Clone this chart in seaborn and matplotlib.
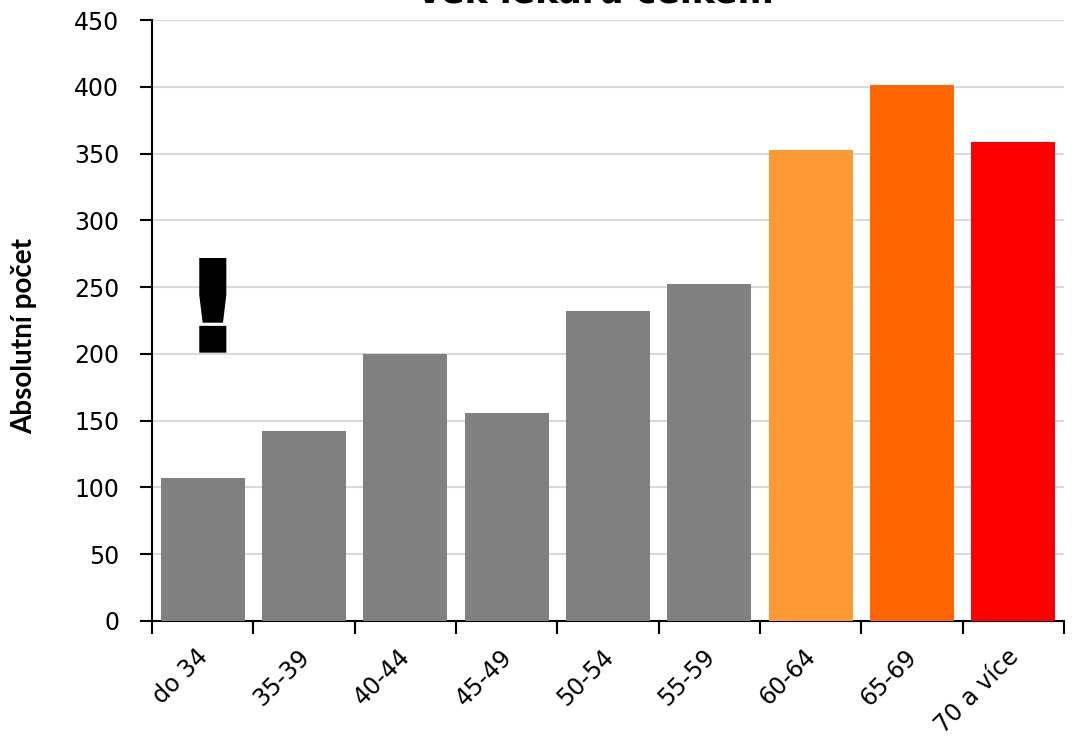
import matplotlib
matplotlib.use("Agg")
import matplotlib.pyplot as plt
import matplotlib.patheffects as pe
import matplotlib.transforms as mtransforms
import seaborn as sns
import pandas as pd
import numpy as np

categories = ["do 34", "35-39", "40-44", "45-49", "50-54", "55-59", "60-64", "65-69", "70 a více"]
values = [107, 142, 200, 156, 232, 252, 353, 401, 359]
colors = ["#808080"] * 6 + ["#FF9933", "#FF6600", "#FF0000"]
yticks = [0, 50, 100, 150, 200, 250, 300, 350, 400, 450]
title = "Věk lékařů celkem"
ylabel = "Absolutní počet"

sns.set_theme(style="white")
plt.rcParams["font.family"] = ["DejaVu Sans"]
plt.rcParams["text.color"] = "black"
plt.rcParams["axes.labelcolor"] = "black"
plt.rcParams["xtick.color"] = "black"
plt.rcParams["ytick.color"] = "black"

df = pd.DataFrame({"cat": categories, "val": values})

fig = plt.figure(figsize=(10.74, 7.42), dpi=100)
ax = fig.add_axes([152/1074, 1-621/742, (1064-152)/1074, (621-20)/742])

sns.barplot(data=df, x="cat", y="val", hue="cat", palette=colors, legend=False,
            width=0.83, saturation=1, linewidth=0, ax=ax, zorder=3)

ax.set_ylim(0, 450)
ax.set_xlim(-0.5, len(categories) - 0.5)
ax.set_yticks(yticks)
ax.yaxis.grid(True, color="#d9d9d9", linewidth=1.5, zorder=0)
ax.set_axisbelow(True)
for s in ["top", "right"]:
    ax.spines[s].set_visible(False)
for s in ["left", "bottom"]:
    ax.spines[s].set_color("black")
    ax.spines[s].set_linewidth(1.5)

ax.tick_params(axis="y", which="major", left=True, length=8.5, width=1.5, color="black",
               labelsize=17, pad=15)
ax.tick_params(axis="x", which="major", bottom=False, labelsize=17, pad=11)
ax.set_xticks(np.arange(-0.5, len(categories)), minor=True)
ax.tick_params(axis="x", which="minor", bottom=True, length=9, width=1.5, color="black")
ax.set_xticks(range(len(categories)))
ax.set_xticklabels(categories, rotation=45, ha="right", rotation_mode="anchor")
for lbl in ax.get_xticklabels():
    lbl.set_transform(lbl.get_transform() + mtransforms.ScaledTranslation(-0.07, 0, fig.dpi_scale_trans))

ax.set_xlabel("")
ax.set_ylabel(ylabel, fontsize=20, fontweight="bold", family="Lato")
ax.yaxis.set_label_coords((37 - 152) / 912, (621 - 336) / 601)

ax.text(0.1, 203, "!", ha="center", va="baseline", fontsize=88, fontweight="heavy",
        color="black", zorder=5,
        path_effects=[pe.Stroke(linewidth=4, foreground="black", joinstyle="miter"), pe.Normal()])

fig.text(0.554, 1 - 4/742, title, ha="center", va="baseline", fontsize=25, fontweight="bold")

fig.savefig("out.png", dpi=100)
